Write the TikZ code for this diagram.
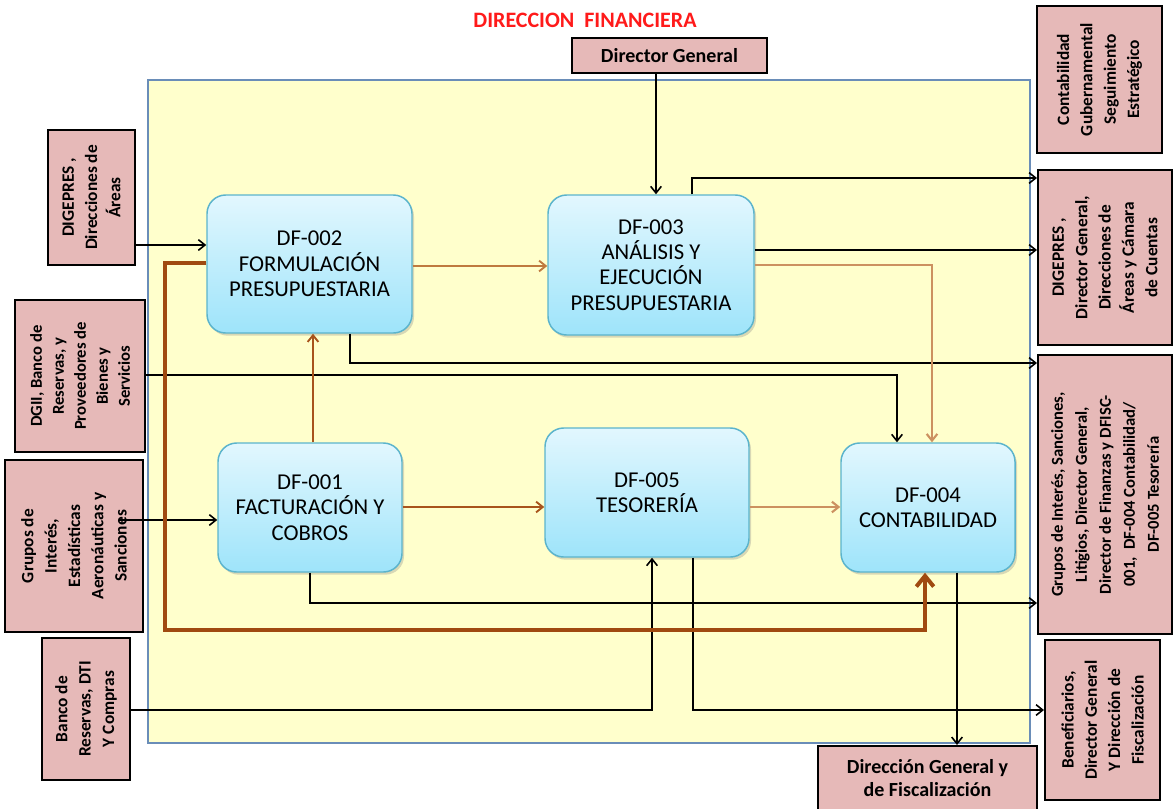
\documentclass[tikz,border=0pt]{standalone}
\usepackage{fontspec}
\setmainfont{Carlito}
\usetikzlibrary{arrows.meta,shadows,calc}
\definecolor{boxpink}{HTML}{E6B9B8}
\definecolor{panelyellow}{HTML}{FFFFCC}
\definecolor{panelblue}{HTML}{6A8DB8}
\definecolor{proctop}{HTML}{E2F7FE}
\definecolor{procbot}{HTML}{9EE4FA}
\definecolor{procedge}{HTML}{5BB4CC}
\definecolor{flowdark}{HTML}{A8541C}
\definecolor{flowmid}{HTML}{BF7A3F}
\definecolor{flowlight}{HTML}{CC9160}
\definecolor{loopbrown}{HTML}{A04A10}
\definecolor{titlered}{HTML}{FF1A1A}
\begin{document}
\begin{tikzpicture}[x=0.75pt,y=-0.75pt,
  sz/.style 2 args={minimum width=#1*0.75pt, minimum height=#2*0.75pt},
  proc/.style={rounded corners=14pt, draw=procedge, line width=1.1pt,
    top color=proctop, bottom color=procbot, align=center,
    font=\fontsize{17}{19}\selectfont, inner sep=0pt,
    drop shadow={shadow xshift=1.5pt, shadow yshift=-2pt, opacity=0.3, fill=gray}},
  ext/.style={draw=black, line width=1.5pt, fill=boxpink, align=center,
    inner sep=0pt, font=\bfseries\fontsize{13}{17.5}\selectfont},
  extv/.style={ext, rotate=90},
  tip/.style={-{Straight Barb[length=5pt,width=8pt]}},
  blk/.style={draw=black, line width=1.2pt, tip},
  fdark/.style={draw=flowdark, line width=1.4pt, tip},
  fmid/.style={draw=flowmid, line width=1.4pt, tip},
  flight/.style={draw=flowlight, line width=1.6pt, tip},
  loop/.style={draw=loopbrown, line width=3.6pt,
    -{Straight Barb[length=8pt,width=13pt,line width=3pt]}}
]
\useasboundingbox (0,0) rectangle (1173,808);

% framing panel and heading
\node[draw=panelblue, fill=panelyellow, line width=1.2pt, sz={882}{663}] (panel) at (589,411.5) {};
\node[font=\bfseries\fontsize{16.5}{18}\selectfont, text=titlered] (title) at (585,20) {DIRECCION\ \ FINANCIERA};
\node[ext, sz={195}{35}, font=\bfseries\fontsize{15}{17}\selectfont] (dg) at (669.5,55.5) {Director General};

% process boxes
\node[proc, sz={205}{138}] (P2) at (309.5,264) {DF-002\\FORMULACIÓN\\PRESUPUESTARIA};
\node[proc, sz={206}{140}] (P3) at (651,265) {DF-003\\ANÁLISIS Y\\EJECUCIÓN\\PRESUPUESTARIA};
\node[proc, sz={184}{129}] (P1) at (310,507.5) {DF-001\\FACTURACIÓN Y\\COBROS};
\node[proc, sz={204}{129}] (P5) at (647,492.5) {DF-005\\TESORERÍA};
\node[proc, sz={174}{129}] (P4) at (928,507.5) {DF-004\\CONTABILIDAD};

% inputs on the left
\node[extv, sz={135}{87}] (l1) at (91.5,197.5) {DIGEPRES ,\\Direcciones de\\Áreas};
\node[extv, sz={152}{130}, font=\bfseries\fontsize{12.5}{16.5}\selectfont] (l2) at (80,376) {DGII, Banco de\\Reservas, y\\Proveedores de\\Bienes y\\Servicios};
\node[extv, sz={172}{138}] (l3) at (74,546) {Grupos de\\Interés,\\Estadísticas\\Aeronáuticas y\\Sanciones};
\node[extv, sz={142}{88}] (l4) at (86,709) {Banco de\\Reservas, DTI\\Y Compras};

% outputs on the right
\node[extv, sz={147}{125}] (r1) at (1099.5,79.5) {Contabilidad\\Gubernamental\\Seguimiento\\Estratégico};
\node[extv, sz={175}{134}] (r2) at (1105,257.5) {DIGEPRES ,\\Director General,\\Direcciones de\\Áreas y Cámara\\de Cuentas};
\node[extv, sz={279}{134}, font=\bfseries\fontsize{12.5}{18}\selectfont] (r3) at (1105,494.5) {Grupos de Interés, Sanciones,\\Litigios, Director General,\\Director de Finanzas y DFISC-\\001,\ \ DF-004 Contabilidad/\\DF-005 Tesorería};
\node[extv, sz={160}{115}] (r4) at (1102.5,720) {Beneficiarios,\\Director General\\Y Dirección de\\Fiscalización};
\node[ext, sz={219}{64}, font=\bfseries\fontsize{15}{17.5}\selectfont] (bot) at (927.5,778) {Dirección General y\\de Fiscalización};

% black information flows
\draw[blk] (dg.south -| 656,0) -- (P3.north -| 656,0);
\draw[blk] (P3.north -| 692,0) |- (r2.north |- 0,178);
\draw[blk] (P3.east |- 0,250) -- (r2.north |- 0,250);
\draw[blk] (P2.south -| 350,0) |- (r3.north |- 0,363);
\draw[blk] (l2.south |- 0,375) -| (P4.north -| 897,0);
\draw[blk] (l1.south |- 0,245) -- (P2.west |- 0,245);
\draw[blk] ($(l3.south |- 0,520)+(-25,0)$) -- (P1.west |- 0,520);
\draw[blk] (P1.south -| 310,0) |- (r3.north |- 0,603);
\draw[blk] (l4.south |- 0,710) -| (P5.south -| 652,0);
\draw[blk] (P5.south -| 693,0) |- (r4.north |- 0,710);
\draw[blk] (P4.south -| 957,0) -- (bot.north -| 957,0);

% process flows
\draw[fmid] (P2.east |- 0,266) -- (P3.west |- 0,266);
\draw[flight] (P3.east |- 0,265) -| (P4.north -| 932,0);
\draw[fdark] (P1.north -| 313,0) -- (P2.south -| 313,0);
\draw[fdark] (P1.east |- 0,507) -- (P5.west |- 0,507);
\draw[flight] (P5.east |- 0,507) -- (P4.west |- 0,507);
\draw[loop] (P2.west |- 0,263) -| (165,630) -| (P4.south -| 925,0);
\end{tikzpicture}
\end{document}
